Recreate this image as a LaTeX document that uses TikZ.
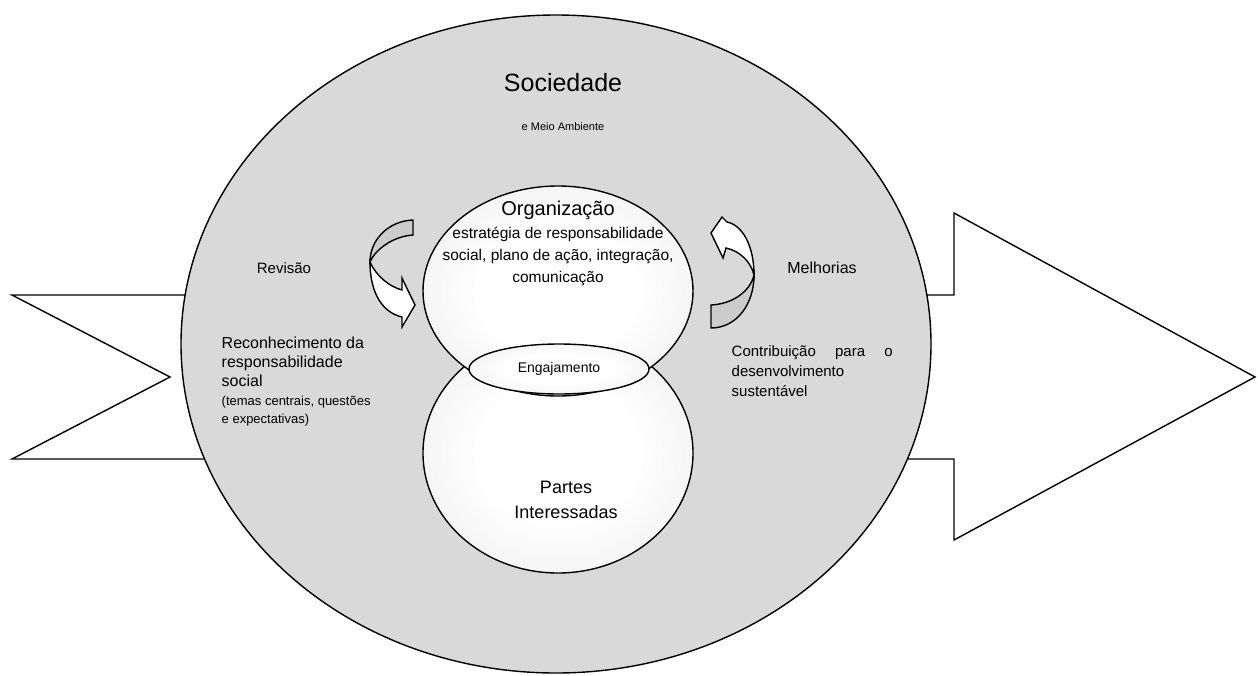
\documentclass[tikz,border=0pt]{standalone}
\usepackage{fontspec}
\setmainfont{Liberation Sans}
\usetikzlibrary{positioning,shapes}
\colorlet{myedge}{gray!24}
\pgfdeclareradialshading{myglow}{\pgfpoint{0bp}{0bp}}{color(0bp)=(white); color(14bp)=(white); color(50bp)=(myedge)}

\begin{document}
\begin{tikzpicture}[x=1pt, y=-1pt, line width=1.4pt,
  myouter/.style={draw,ellipse,fill=gray!30,minimum width=750pt,minimum height=658pt,inner sep=0pt},
  myinner/.style={draw,ellipse,shade,shading=myglow,minimum width=270pt,inner sep=0pt},
  mytext/.style={inner sep=0pt,align=center},
  myleft/.style={inner sep=0pt,align=left,anchor=north west},
  mybig/.style={draw,fill=white},
 ]
\useasboundingbox (0,0) rectangle (1258,675);

% big arrows behind the society
\draw[mybig] (12,295) -- (260,295) -- (260,459) -- (12,459) -- (170,377) -- cycle;
\draw[mybig] (880,295) -- (954,295) -- (954,213) -- (1255,377) -- (954,540) -- (954,459) -- (880,459) -- cycle;

\node[myouter] (S) at (556,344) {};
\node[myinner, minimum height=240pt] (P) at (558,453) {};
\node[myinner, minimum height=210pt] (O) at (558,291) {};
\node[draw,ellipse,shade,shading=myglow,minimum width=180pt,minimum height=50pt,inner sep=0pt,
  font=\fontsize{14}{16}\selectfont] (E) at (559,369) {Engajamento};

% Revisao
\draw[fill=gray!40] (413,220) .. controls (388,221) and (370,240) .. (370,262)
  .. controls (376,248) and (395,236) .. (413,235) -- cycle;
\draw[fill=white] (370,262) .. controls (370,295) and (384,313) .. (402,317)
  -- (402,327) -- (415,305) -- (402,278) -- (402,290)
  .. controls (390,287) and (376,276) .. (370,262) -- cycle;

% Melhorias
\draw[fill=gray!40] (711,328) .. controls (736,328) and (754,305) .. (754,275)
  .. controls (750,292) and (732,304) .. (711,305) -- cycle;
\draw[fill=white] (754,275) .. controls (754,245) and (742,225) .. (727,222)
  -- (722,217) -- (711,233) -- (723,258) -- (726,248)
  .. controls (740,251) and (751,262) .. (754,275) -- cycle;

\node[mytext, font=\fontsize{25}{28}\selectfont] (SO) at (563,83) {Sociedade};
\node[mytext, font=\fontsize{11}{13}\selectfont, below=29pt of SO] (MA) {e Meio Ambiente};

\node[mytext, font=\fontsize{20}{22}\selectfont] (OR) at (558,210) {Organização};
\node[mytext, font=\fontsize{15.5}{22}\selectfont, below=6pt of OR] (OD)
  {estratégia de responsabilidade\\social, plano de ação, integração,\\comunicação};

\node[mytext, font=\fontsize{18}{25}\selectfont] (PI) at (566,500) {Partes\\Interessadas};

\node[mytext, font=\fontsize{15}{17}\selectfont] (RV) at (284,268) {Revisão};
\node[mytext, font=\fontsize{16}{18}\selectfont] (ME) at (822,268) {Melhorias};

\node[myleft, font=\fontsize{16}{19}\selectfont] (RC) at (221,336)
  {Reconhecimento da\\responsabilidade\\social};
\node[myleft, font=\fontsize{13}{18}\selectfont, below=8pt of RC.south west, anchor=north west] (TC)
  {(temas centrais, questões\\e expectativas)};

\node[myleft, font=\fontsize{15}{20}\selectfont, text width=161pt] (CT) at (731,345)
  {Contribuição\hfill para\hfill o\\desenvolvimento\\sustentável};

\end{tikzpicture}
\end{document}
